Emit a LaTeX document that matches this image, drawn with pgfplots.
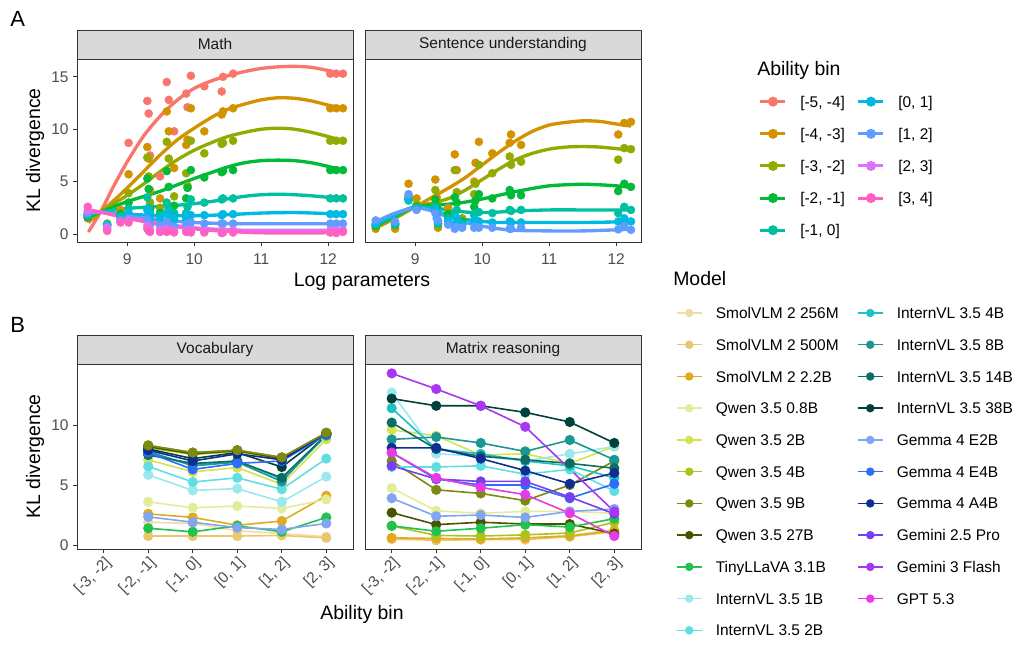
\documentclass[border=0pt]{standalone}
\usepackage{fontspec}
\setmainfont{Liberation Sans}
\usepackage{pgfplots}
\pgfplotsset{compat=1.18}

\definecolor{b1}{HTML}{F8766D}
\definecolor{b2}{HTML}{D39200}
\definecolor{b3}{HTML}{93AA00}
\definecolor{b4}{HTML}{00BA38}
\definecolor{b5}{HTML}{00C19F}
\definecolor{b6}{HTML}{00B9E3}
\definecolor{b7}{HTML}{619CFF}
\definecolor{b8}{HTML}{DB72FB}
\definecolor{b9}{HTML}{FF61C3}

\definecolor{smA}{HTML}{F0DDA5}
\definecolor{smB}{HTML}{E9C76F}
\definecolor{smC}{HTML}{E1AA1F}
\definecolor{qA}{HTML}{E3EC9A}
\definecolor{qB}{HTML}{D5E253}
\definecolor{qC}{HTML}{ADC21C}
\definecolor{qD}{HTML}{7C8B10}
\definecolor{qE}{HTML}{4B5300}
\definecolor{tl}{HTML}{22C24F}
\definecolor{iA}{HTML}{9BE9EC}
\definecolor{iB}{HTML}{5FDFE4}
\definecolor{iC}{HTML}{1FC1C2}
\definecolor{iD}{HTML}{189794}
\definecolor{iE}{HTML}{0C6D67}
\definecolor{iF}{HTML}{00423B}
\definecolor{gA}{HTML}{7FA5F3}
\definecolor{gB}{HTML}{2E6DF8}
\definecolor{gC}{HTML}{0F2F90}
\definecolor{gpA}{HTML}{7A3EF2}
\definecolor{gpB}{HTML}{A737F4}
\definecolor{gpt}{HTML}{E63AE6}

\definecolor{g20}{HTML}{333333}
\definecolor{g30}{HTML}{4D4D4D}
\definecolor{g10}{HTML}{1A1A1A}
\definecolor{strip}{HTML}{D9D9D9}

\newcommand{\smallf}{\fontsize{11.6}{13.9}\selectfont}
\newcommand{\bigf}{\fontsize{14.6}{17.5}\selectfont}

\pgfplotsset{
  panel/.style={scale only axis, width=207pt,
    axis line style={draw=g20, line width=0.7pt},
    tick style={draw=g20, line width=0.6pt},
    major tick length=2.8pt, tick align=outside,
    xtick pos=bottom, ytick pos=left,
    ticklabel style={font=\smallf, text=g30},
    /pgf/number format/assume math mode=true},
  sc/.style={only marks, mark=*, mark size=3.0pt, color=#1, mark options={draw=none, fill=#1}},
  smo/.style={smooth, no marks, line width=2.5pt, color=#1},
  mb/.style={color=#1, line width=1.2pt, mark=*, mark size=3.2pt, mark options={solid, draw=none, fill=#1}},
  btick/.style={xtick={0,1,2,3,4,5},
    xticklabels={{[-3, -2]},{[-2, -1]},{[-1, 0]},{[0, 1]},{[1, 2]},{[2, 3]}},
    xticklabel style={rotate=45, anchor=north east}, xticklabel shift=-3pt},
  leg/.style={hide axis, scale only axis, width=1pt, height=1pt,
    xmin=0, xmax=1, ymin=0, ymax=1, anchor=north west,
    legend cell align=left,
    legend style={at={(0,1)}, anchor=north west, draw=none, fill=none,
      inner sep=0pt, outer sep=0pt, row sep=#1, column sep=10pt, font=\smallf,
      nodes={inner sep=0pt, text height=10.3pt, text depth=2pt}},
    legend image code/.code={\draw[mark repeat=2, mark phase=2, ##1] plot coordinates {(0pt,0pt) (9.375pt,0pt) (18.75pt,0pt)};}},
  la/.style={color=#1, line width=2.2pt, mark=*, mark size=2.6pt, mark options={draw=none, fill=#1}},
  lm/.style={color=#1, line width=1.1pt, mark=*, mark size=2.6pt, mark options={draw=none, fill=#1}},
}

\begin{document}
\begin{tikzpicture}
\path[use as bounding box] (0pt,0pt) rectangle (763.5pt,-483pt);

% ---------------- Panel A: Math ----------------
\begin{axis}[panel, name=pm, at={(57.75pt,-181.5pt)}, anchor=south west,
  height=137.25pt, xmin=8.25, xmax=12.37, ymin=-0.76, ymax=16.7,
  xtick={9,10,11,12}, ytick={0,5,10,15}, xticklabel shift=2.5pt]
\addplot[sc=b1] coordinates {(8.41,1.5) (8.70,0.45) (8.90,1.3) (9.02,8.7) (9.30,12.7) (9.32,11.5) (9.34,7.5) (9.49,5.5) (9.59,14.5) (9.62,12.8) (9.70,9.8) (9.88,13.4) (9.90,12.1) (9.95,15.1) (10.15,14.1) (10.41,13.6) (10.43,15.0) (10.58,15.3) (12.03,15.3) (12.12,15.3) (12.22,15.3)};
\addplot[sc=b2] coordinates {(8.41,1.8) (8.70,0.9) (8.90,2.3) (9.02,5.7) (9.30,8.3) (9.32,7.2) (9.34,4.2) (9.49,3.4) (9.59,11.7) (9.62,9.8) (9.70,6.3) (9.88,8.5) (9.90,9.0) (9.95,12.0) (10.15,9.8) (10.41,11.4) (10.43,11.7) (10.58,12.0) (12.03,12.0) (12.12,12.0) (12.22,12.0)};
\addplot[sc=b3] coordinates {(8.41,1.7) (8.70,1.0) (8.90,2.0) (9.02,3.9) (9.30,7.3) (9.32,5.5) (9.34,3.0) (9.49,2.5) (9.59,8.8) (9.62,7.2) (9.70,3.6) (9.88,5.8) (9.90,4.6) (9.95,8.9) (10.15,7.7) (10.41,8.6) (10.43,8.7) (10.58,8.9) (12.03,8.9) (12.12,8.9) (12.22,8.9)};
\addplot[sc=b4] coordinates {(8.41,1.6) (8.70,0.8) (8.90,1.9) (9.02,3.0) (9.30,5.3) (9.32,4.3) (9.34,2.4) (9.49,2.0) (9.59,6.0) (9.62,4.5) (9.70,2.7) (9.88,3.4) (9.90,4.4) (9.95,6.1) (10.15,5.4) (10.41,5.9) (10.43,6.0) (10.58,6.1) (12.03,6.1) (12.12,6.1) (12.22,6.1)};
\addplot[sc=b5] coordinates {(8.41,1.8) (8.70,0.9) (8.90,1.7) (9.02,2.4) (9.30,3.5) (9.32,2.5) (9.34,2.0) (9.49,1.8) (9.59,3.0) (9.62,2.4) (9.70,2.0) (9.88,2.0) (9.90,2.6) (9.95,3.3) (10.15,3.0) (10.41,3.3) (10.43,3.4) (10.58,3.4) (12.03,3.4) (12.12,3.4) (12.22,3.4)};
\addplot[sc=b6] coordinates {(8.41,1.9) (8.70,0.9) (8.90,1.5) (9.02,2.0) (9.30,2.3) (9.32,1.8) (9.34,1.5) (9.49,1.5) (9.59,2.0) (9.62,1.7) (9.70,1.4) (9.88,1.5) (9.90,1.8) (9.95,1.8) (10.15,1.8) (10.41,1.8) (10.43,1.9) (10.58,1.9) (12.03,1.9) (12.12,1.9) (12.22,1.9)};
\addplot[sc=b7] coordinates {(8.41,2.0) (8.70,0.7) (8.90,1.3) (9.02,1.5) (9.30,1.4) (9.32,1.0) (9.34,0.9) (9.49,0.8) (9.59,1.2) (9.62,0.9) (9.70,0.7) (9.88,0.9) (9.90,1.0) (9.95,1.1) (10.15,1.0) (10.41,1.0) (10.43,1.0) (10.58,1.0) (12.03,1.0) (12.12,1.0) (12.22,1.0)};
\addplot[sc=b8] coordinates {(8.41,2.2) (8.70,0.6) (8.90,1.2) (9.02,1.3) (9.30,0.8) (9.32,0.5) (9.34,0.4) (9.49,0.4) (9.59,0.5) (9.62,0.4) (9.70,0.3) (9.88,0.3) (9.90,0.4) (9.95,0.4) (10.15,0.3) (10.41,0.3) (10.43,0.3) (10.58,0.35) (12.03,0.35) (12.12,0.35) (12.22,0.35)};
\addplot[sc=b9] coordinates {(8.41,2.6) (8.70,0.3) (8.90,1.1) (9.02,1.1) (9.30,0.5) (9.32,0.3) (9.34,0.2) (9.49,0.2) (9.59,0.2) (9.62,0.3) (9.70,0.15) (9.88,0.2) (9.90,0.2) (9.95,0.15) (10.15,0.15) (10.41,0.1) (10.43,0.15) (10.58,0.15) (12.03,0.15) (12.12,0.1) (12.22,0.2)};
% smooth fits
\addplot[smo=b1] coordinates {(8.42,0.2) (8.6,2.1) (8.8,4.6) (9.0,6.9) (9.25,9.4) (9.5,11.3) (9.75,12.8) (10.0,13.9) (10.25,14.6) (10.5,15.1) (10.75,15.5) (11.0,15.8) (11.25,15.95) (11.5,16.0) (11.75,15.9) (12.0,15.6) (12.22,15.3)};
\addplot[smo=b2] coordinates {(8.42,1.1) (8.6,2.1) (8.8,3.2) (9.0,4.4) (9.25,6.0) (9.5,7.6) (9.75,9.0) (10.0,10.1) (10.25,11.1) (10.5,11.9) (10.75,12.4) (11.0,12.8) (11.25,13.0) (11.5,12.95) (11.75,12.7) (12.0,12.3) (12.22,12.0)};
\addplot[smo=b3] coordinates {(8.42,1.4) (8.6,2.1) (8.8,2.9) (9.0,3.7) (9.25,4.8) (9.5,6.0) (9.75,7.1) (10.0,8.0) (10.25,8.7) (10.5,9.3) (10.75,9.7) (11.0,10.0) (11.25,10.1) (11.5,10.0) (11.75,9.7) (12.0,9.3) (12.22,8.9)};
\addplot[smo=b4] coordinates {(8.42,1.6) (8.6,2.1) (8.8,2.6) (9.0,3.1) (9.25,3.6) (9.5,4.1) (9.75,4.7) (10.0,5.3) (10.25,5.85) (10.5,6.4) (10.75,6.8) (11.0,7.0) (11.25,7.05) (11.5,7.0) (11.75,6.8) (12.0,6.45) (12.22,6.1)};
\addplot[smo=b5] coordinates {(8.42,1.8) (8.6,2.1) (8.8,2.3) (9.0,2.45) (9.25,2.55) (9.5,2.65) (9.75,2.75) (10.0,2.9) (10.25,3.1) (10.5,3.35) (10.75,3.6) (11.0,3.75) (11.25,3.8) (11.5,3.75) (11.75,3.65) (12.0,3.5) (12.22,3.35)};
\addplot[smo=b6] coordinates {(8.42,1.9) (8.6,2.1) (8.8,2.0) (9.0,1.9) (9.5,1.75) (10.0,1.75) (10.5,1.85) (11.0,2.0) (11.5,2.05) (12.0,1.95) (12.22,1.9)};
\addplot[smo=b7] coordinates {(8.42,2.0) (8.6,2.1) (8.8,1.9) (9.0,1.7) (9.5,1.35) (10.0,1.1) (10.5,1.0) (11.0,0.98) (11.5,0.98) (12.0,0.98) (12.22,0.97)};
\addplot[smo=b8] coordinates {(8.42,2.1) (8.6,2.1) (8.8,1.85) (9.0,1.6) (9.5,1.0) (10.0,0.6) (10.5,0.4) (11.0,0.35) (11.5,0.35) (12.0,0.35) (12.22,0.35)};
\addplot[smo=b9] coordinates {(8.42,2.3) (8.6,2.1) (8.8,1.8) (9.0,1.5) (9.5,0.9) (10.0,0.5) (10.5,0.25) (11.0,0.12) (11.5,0.1) (12.0,0.12) (12.22,0.15)};
\end{axis}
\draw[fill=strip, draw=g20, line width=0.7pt] (pm.north west) rectangle ([yshift=21.75pt]pm.north east);
\node[font=\smallf, text=g10] at ([yshift=10.9pt]pm.north) {Math};

% ---------------- Panel A: Sentence understanding ----------------
\begin{axis}[panel, name=ps, at={(273.75pt,-181.5pt)}, anchor=south west,
  height=137.25pt, xmin=8.25, xmax=12.37, ymin=-0.76, ymax=16.7,
  xtick={9,10,11,12}, ytick=\empty, xticklabel shift=2.5pt]
\addplot[sc=b2] coordinates {(8.41,0.5) (8.70,0.5) (8.90,4.8) (9.02,3.4) (9.30,5.2) (9.32,3.5) (9.34,0.6) (9.49,2.5) (9.59,7.6) (9.62,6.1) (9.70,0.9) (9.88,5.0) (9.90,6.8) (9.95,8.8) (10.15,7.7) (10.41,8.7) (10.43,9.5) (10.58,8.5) (12.03,9.5) (12.12,10.6) (12.22,10.7)};
\addplot[sc=b3] coordinates {(8.41,0.7) (8.70,0.8) (8.90,3.6) (9.02,2.8) (9.30,4.2) (9.32,3.0) (9.34,0.8) (9.49,2.0) (9.59,6.1) (9.62,4.0) (9.70,1.5) (9.88,3.8) (9.90,4.8) (9.95,6.6) (10.15,5.8) (10.41,7.4) (10.43,6.6) (10.58,6.9) (12.03,7.1) (12.12,8.2) (12.22,8.1)};
\addplot[sc=b4] coordinates {(8.41,0.8) (8.70,0.9) (8.90,3.3) (9.02,2.6) (9.30,3.3) (9.32,2.6) (9.34,1.0) (9.49,1.9) (9.59,3.5) (9.62,3.0) (9.70,1.2) (9.88,2.6) (9.90,3.2) (9.95,3.8) (10.15,3.4) (10.41,4.2) (10.43,3.7) (10.58,3.7) (12.03,4.1) (12.12,4.8) (12.22,4.5)};
\addplot[sc=b5] coordinates {(8.41,0.9) (8.70,1.0) (8.90,3.2) (9.02,2.5) (9.30,2.6) (9.32,2.2) (9.34,1.0) (9.49,1.5) (9.59,2.0) (9.62,2.3) (9.70,1.0) (9.88,1.8) (9.90,2.0) (9.95,2.1) (10.15,2.0) (10.41,2.3) (10.43,2.2) (10.58,2.3) (12.03,2.0) (12.12,2.6) (12.22,2.3)};
\addplot[sc=b6] coordinates {(8.41,1.0) (8.70,1.0) (8.90,3.4) (9.02,2.4) (9.30,2.3) (9.32,1.8) (9.34,1.2) (9.49,1.2) (9.59,0.9) (9.62,1.5) (9.70,0.8) (9.88,1.2) (9.90,1.3) (9.95,1.2) (10.15,1.1) (10.41,1.2) (10.43,1.1) (10.58,1.1) (12.03,1.2) (12.12,1.5) (12.22,1.2)};
\addplot[sc=b7] coordinates {(8.41,1.3) (8.70,1.2) (8.90,3.8) (9.02,2.3) (9.30,2.0) (9.32,1.5) (9.34,1.3) (9.49,0.9) (9.59,0.5) (9.62,0.7) (9.70,0.6) (9.88,0.6) (9.90,0.7) (9.95,0.6) (10.15,0.6) (10.41,0.5) (10.43,0.5) (10.58,0.6) (12.03,0.45) (12.12,0.75) (12.22,0.4)};
\addplot[smo=b2] coordinates {(8.42,0.6) (8.7,1.5) (9.0,2.6) (9.25,3.5) (9.5,4.4) (9.75,5.4) (10.0,6.6) (10.25,7.8) (10.5,8.9) (10.75,9.8) (11.0,10.4) (11.25,10.65) (11.5,10.8) (11.75,10.75) (12.0,10.5) (12.22,10.3)};
\addplot[smo=b3] coordinates {(8.42,0.7) (8.7,1.6) (9.0,2.6) (9.25,2.95) (9.5,3.4) (9.75,4.2) (10.0,5.2) (10.25,6.2) (10.5,7.1) (10.75,7.7) (11.0,8.1) (11.25,8.3) (11.5,8.35) (11.75,8.3) (12.0,8.15) (12.22,8.0)};
\addplot[smo=b4] coordinates {(8.42,0.8) (8.7,1.7) (9.0,2.6) (9.25,2.75) (9.5,2.85) (9.75,3.05) (10.0,3.35) (10.25,3.7) (10.5,4.05) (10.75,4.35) (11.0,4.6) (11.25,4.7) (11.5,4.75) (11.75,4.7) (12.0,4.6) (12.22,4.45)};
\addplot[smo=b5] coordinates {(8.42,0.9) (8.7,1.8) (9.0,2.6) (9.25,2.5) (9.5,2.3) (9.75,2.1) (10.0,2.05) (10.25,2.1) (10.5,2.2) (11.0,2.3) (11.5,2.3) (12.0,2.3) (12.22,2.3)};
\addplot[smo=b6] coordinates {(8.42,1.0) (8.7,1.9) (9.0,2.6) (9.25,2.3) (9.5,1.8) (9.75,1.4) (10.0,1.2) (10.25,1.1) (10.5,1.1) (11.0,1.1) (11.5,1.1) (12.0,1.15) (12.22,1.15)};
\addplot[smo=b7] coordinates {(8.42,1.2) (8.7,2.0) (9.0,2.5) (9.25,2.2) (9.5,1.6) (9.75,1.1) (10.0,0.75) (10.25,0.5) (10.5,0.35) (11.0,0.3) (11.5,0.3) (12.0,0.4) (12.22,0.45)};
\end{axis}
\draw[fill=strip, draw=g20, line width=0.7pt] (ps.north west) rectangle ([yshift=21.75pt]ps.north east);
\node[font=\smallf, text=g10] at ([yshift=10.9pt]ps.north) {Sentence understanding};

% ---------------- Panel B: Vocabulary ----------------
\begin{axis}[panel, btick, name=pv, at={(57.75pt,-411.75pt)}, anchor=south west,
  height=138.75pt, xmin=-0.6, xmax=5.6, ymin=-0.33, ymax=15.08,
  ytick={0,5,10}]
\addplot[mb=smA] coordinates {(1,1.9) (2,1.8) (3,1.2) (4,0.95) (5,0.7)};
\addplot[mb=smB] coordinates {(1,0.75) (2,0.75) (3,0.75) (4,0.8) (5,0.6)};
\addplot[mb=smC] coordinates {(1,2.6) (2,2.3) (3,1.65) (4,2.0) (5,4.1)};
\addplot[mb=qA] coordinates {(1,3.6) (2,3.1) (3,3.25) (4,3.05) (5,3.8)};
\addplot[mb=qB] coordinates {(1,7.1) (2,6.1) (3,6.45) (4,5.05) (5,8.8)};
\addplot[mb=qC] coordinates {(1,8.1) (2,7.55) (3,7.8) (4,7.15) (5,9.2)};
\addplot[mb=qD] coordinates {(1,8.3) (2,7.7) (3,7.9) (4,7.3) (5,9.35)};
\addplot[mb=qE] coordinates {(1,8.2) (2,7.6) (3,7.85) (4,7.2) (5,9.3)};
\addplot[mb=tl] coordinates {(1,1.4) (2,1.1) (3,1.6) (4,1.1) (5,2.3)};
\addplot[mb=iA] coordinates {(1,5.85) (2,4.55) (3,4.7) (4,3.6) (5,5.7)};
\addplot[mb=iB] coordinates {(1,6.55) (2,5.25) (3,5.6) (4,4.65) (5,7.2)};
\addplot[mb=iC] coordinates {(1,7.6) (2,6.7) (3,7.0) (4,5.5) (5,9.1)};
\addplot[mb=iD] coordinates {(1,7.8) (2,6.6) (3,6.9) (4,5.3) (5,9.2)};
\addplot[mb=iE] coordinates {(1,7.5) (2,6.8) (3,7.0) (4,5.6) (5,9.2)};
\addplot[mb=iF] coordinates {(1,8.0) (2,7.2) (3,7.7) (4,6.5) (5,9.3)};
\addplot[mb=gA] coordinates {(1,2.35) (2,1.9) (3,1.45) (4,1.3) (5,1.8)};
\addplot[mb=gB] coordinates {(1,7.7) (2,6.3) (3,6.8) (4,7.0) (5,9.2)};
\addplot[mb=gC] coordinates {(1,7.9) (2,7.0) (3,7.6) (4,7.1) (5,9.3)};
\addplot[mb=qD] coordinates {(1,8.3) (2,7.7) (3,7.9) (4,7.3) (5,9.35)};
\end{axis}
\draw[fill=strip, draw=g20, line width=0.7pt] (pv.north west) rectangle ([yshift=21.75pt]pv.north east);
\node[font=\smallf, text=g10] at ([yshift=10.9pt]pv.north) {Vocabulary};

% ---------------- Panel B: Matrix reasoning ----------------
\begin{axis}[panel, btick, name=px, at={(273.75pt,-411.75pt)}, anchor=south west,
  height=138.75pt, xmin=-0.6, xmax=5.6, ymin=-0.33, ymax=15.08,
  ytick=\empty]
\addplot[mb=smA] coordinates {(0,0.55) (1,0.5) (2,0.5) (3,0.55) (4,0.8) (5,1.3)};
\addplot[mb=smB] coordinates {(0,0.5) (1,0.4) (2,0.45) (3,0.45) (4,0.7) (5,1.1)};
\addplot[mb=smC] coordinates {(0,0.6) (1,0.55) (2,0.5) (3,0.6) (4,0.75) (5,1.2)};
\addplot[mb=qA] coordinates {(0,4.75) (1,2.85) (2,2.65) (3,2.8) (4,2.8) (5,2.65)};
\addplot[mb=qB] coordinates {(0,9.6) (1,9.1) (2,7.5) (3,7.6) (4,6.8) (5,8.2)};
\addplot[mb=qC] coordinates {(0,1.6) (1,0.8) (2,0.75) (3,0.85) (4,1.0) (5,1.9)};
\addplot[mb=qD] coordinates {(0,7.0) (1,4.6) (2,4.3) (3,3.7) (4,5.0) (5,7.0)};
\addplot[mb=qE] coordinates {(0,2.7) (1,1.7) (2,1.9) (3,1.75) (4,1.75) (5,0.95)};
\addplot[mb=tl] coordinates {(0,1.6) (1,1.15) (2,1.4) (3,1.7) (4,1.5) (5,2.2)};
\addplot[mb=iA] coordinates {(0,12.7) (1,7.6) (2,7.4) (3,7.0) (4,7.6) (5,8.2)};
\addplot[mb=iB] coordinates {(0,6.5) (1,6.5) (2,6.6) (3,5.9) (4,6.3) (5,4.5)};
\addplot[mb=iC] coordinates {(0,11.4) (1,8.0) (2,7.6) (3,7.0) (4,6.6) (5,5.6)};
\addplot[mb=iD] coordinates {(0,8.8) (1,9.0) (2,8.5) (3,7.8) (4,8.75) (5,7.1)};
\addplot[mb=iE] coordinates {(0,10.2) (1,8.0) (2,7.4) (3,7.1) (4,6.8) (5,6.4)};
\addplot[mb=iF] coordinates {(0,12.2) (1,11.6) (2,11.6) (3,11.05) (4,10.25) (5,8.5)};
\addplot[mb=gA] coordinates {(0,3.9) (1,2.4) (2,2.5) (3,2.3) (4,2.8) (5,3.0)};
\addplot[mb=gB] coordinates {(0,7.7) (1,5.5) (2,5.0) (3,5.0) (4,3.9) (5,5.1)};
\addplot[mb=gC] coordinates {(0,8.1) (1,8.1) (2,7.2) (3,6.2) (4,5.1) (5,6.0)};
\addplot[mb=gpA] coordinates {(0,6.6) (1,5.5) (2,5.3) (3,5.3) (4,4.0) (5,2.6)};
\addplot[mb=gpB] coordinates {(0,14.3) (1,13.0) (2,11.6) (3,9.85) (5,2.8)};
\addplot[mb=gpt] coordinates {(0,7.7) (1,5.6) (2,4.8) (3,4.2) (4,2.65) (5,0.75)};
\end{axis}
\draw[fill=strip, draw=g20, line width=0.7pt] (px.north west) rectangle ([yshift=21.75pt]px.north east);
\node[font=\smallf, text=g10] at ([yshift=10.9pt]px.north) {Matrix reasoning};

% ---------------- titles ----------------
\node[font=\fontsize{16.5}{19}\selectfont, anchor=base west, inner sep=0pt] at (7.5pt,-19.5pt) {A};
\node[font=\fontsize{16.5}{19}\selectfont, anchor=base west, inner sep=0pt] at (7.5pt,-249.5pt) {B};
\node[font=\bigf, rotate=90, inner sep=0pt] at (26.25pt,-112.9pt) {KL divergence};
\node[font=\bigf, rotate=90, inner sep=0pt] at (26.25pt,-342.4pt) {KL divergence};
\node[font=\bigf, anchor=base, inner sep=0pt] at (271.5pt,-214.5pt) {Log parameters};
\node[font=\bigf, anchor=base, inner sep=0pt] at (271.5pt,-464.25pt) {Ability bin};
\node[font=\bigf, anchor=base west, inner sep=0pt] at (567.75pt,-56.25pt) {Ability bin};
\node[font=\bigf, anchor=base west, inner sep=0pt] at (504.75pt,-213.75pt) {Model};

% ---------------- legends ----------------
\begin{axis}[leg=11.8pt, at={(569.25pt,-70.1pt)}]
\addlegendimage{la=b1}\addlegendentry{[-5, -4]}
\addlegendimage{la=b2}\addlegendentry{[-4, -3]}
\addlegendimage{la=b3}\addlegendentry{[-3, -2]}
\addlegendimage{la=b4}\addlegendentry{[-2, -1]}
\addlegendimage{la=b5}\addlegendentry{[-1, 0]}
\end{axis}
\begin{axis}[leg=11.8pt, at={(642.75pt,-70.1pt)}]
\addlegendimage{la=b6}\addlegendentry{[0, 1]}
\addlegendimage{la=b7}\addlegendentry{[1, 2]}
\addlegendimage{la=b8}\addlegendentry{[2, 3]}
\addlegendimage{la=b9}\addlegendentry{[3, 4]}
\end{axis}
\begin{axis}[leg=11.5pt, at={(507pt,-228.6pt)}]
\addlegendimage{lm=smA}\addlegendentry{SmolVLM 2 256M}
\addlegendimage{lm=smB}\addlegendentry{SmolVLM 2 500M}
\addlegendimage{lm=smC}\addlegendentry{SmolVLM 2 2.2B}
\addlegendimage{lm=qA}\addlegendentry{Qwen 3.5 0.8B}
\addlegendimage{lm=qB}\addlegendentry{Qwen 3.5 2B}
\addlegendimage{lm=qC}\addlegendentry{Qwen 3.5 4B}
\addlegendimage{lm=qD}\addlegendentry{Qwen 3.5 9B}
\addlegendimage{lm=qE}\addlegendentry{Qwen 3.5 27B}
\addlegendimage{lm=tl}\addlegendentry{TinyLLaVA 3.1B}
\addlegendimage{lm=iA}\addlegendentry{InternVL 3.5 1B}
\addlegendimage{lm=iB}\addlegendentry{InternVL 3.5 2B}
\end{axis}
\begin{axis}[leg=11.5pt, at={(642.75pt,-228.6pt)}]
\addlegendimage{lm=iC}\addlegendentry{InternVL 3.5 4B}
\addlegendimage{lm=iD}\addlegendentry{InternVL 3.5 8B}
\addlegendimage{lm=iE}\addlegendentry{InternVL 3.5 14B}
\addlegendimage{lm=iF}\addlegendentry{InternVL 3.5 38B}
\addlegendimage{lm=gA}\addlegendentry{Gemma 4 E2B}
\addlegendimage{lm=gB}\addlegendentry{Gemma 4 E4B}
\addlegendimage{lm=gC}\addlegendentry{Gemma 4 A4B}
\addlegendimage{lm=gpA}\addlegendentry{Gemini 2.5 Pro}
\addlegendimage{lm=gpB}\addlegendentry{Gemini 3 Flash}
\addlegendimage{lm=gpt}\addlegendentry{GPT 5.3}
\end{axis}
\end{tikzpicture}
\end{document}
